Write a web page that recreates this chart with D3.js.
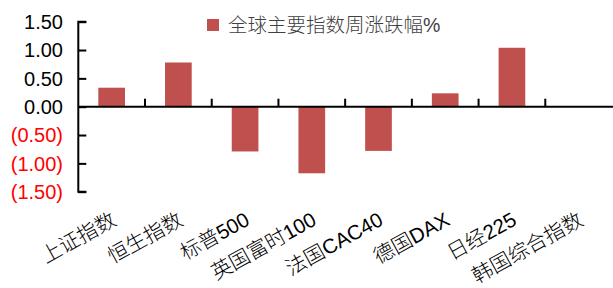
<!DOCTYPE html>
<html><head><meta charset="utf-8">
<script src="https://cdn.jsdelivr.net/npm/d3@7/dist/d3.min.js"></script>
<style>body{margin:0;background:#fff;}svg{display:block;}</style>
</head><body>
<svg id="c" width="613" height="288"></svg>
<script>
const categories = ["上证指数","恒生指数","标普500","英国富时100","法国CAC40","德国DAX","日经225","韩国综合指数"];
const values = [0.335, 0.78, -0.79, -1.175, -0.78, 0.236, 1.04, 0];
const yTicks = [1.5, 1.0, 0.5, 0, -0.5, -1.0, -1.5];
const legendLabel = "全球主要指数周涨跌幅%";

const svg = d3.select("#c");
const font = "'Liberation Sans', Arial, 'Noto Sans CJK SC', sans-serif";
const x = d3.scaleBand().domain(categories).range([78.3, 612]).paddingInner(0.6).paddingOuter(0.3);
const xOuter = d3.scaleBand().domain(categories).range([78.3, 612]);
const y = d3.scaleLinear().domain([-1.5, 1.5]).range([191.7, 21.7]);

// bars
svg.append("g").selectAll("rect").data(values).join("rect")
  .attr("x", (d,i) => x(categories[i]))
  .attr("width", x.bandwidth())
  .attr("y", d => y(Math.max(0,d)))
  .attr("height", d => Math.abs(y(d) - y(0)))
  .attr("fill", "#C0504D");

// y axis
const yAxis = d3.axisRight(y).tickValues(yTicks).tickSize(8).tickFormat("");
const ga = svg.append("g").attr("transform","translate(78.3,0)").call(yAxis);
ga.select(".domain").attr("stroke","#000").attr("stroke-width",2).attr("d", `M8,${y(1.5)}H0V${y(-1.5)}H8`);
ga.selectAll(".tick line").attr("stroke","#000").attr("stroke-width",2);

svg.append("g").selectAll("text").data(yTicks).join("text")
  .attr("x", 63).attr("y", d => y(d)).attr("dy","0.36em")
  .attr("text-anchor","end")
  .attr("font-family", font).attr("font-size", 20)
  .attr("fill", d => d < 0 ? "#FF0000" : "#000")
  .text(d => d < 0 ? "(" + d3.format(".2f")(-d) + ")" : d3.format(".2f")(d));

// x axis at zero
const xAxis = d3.axisTop(xOuter).tickSize(8).tickFormat("");
const gx = svg.append("g").attr("transform", `translate(0,${y(0)})`).call(xAxis);
gx.select(".domain").attr("stroke","#000").attr("stroke-width",2).attr("d","M78.3,0H613");
gx.selectAll(".tick").attr("transform", d => `translate(${xOuter(d)},0)`);
gx.selectAll(".tick").filter((d,i)=>i===0).remove();
gx.selectAll(".tick line").attr("stroke","#000").attr("stroke-width",2);

// x labels
svg.append("g").selectAll("text").data(categories).join("text")
  .attr("text-anchor","end")
  .attr("font-family", font).attr("font-size", 20.5).attr("font-weight", 300).attr("fill","#000")
  .attr("transform", d => `translate(${xOuter(d)+xOuter.bandwidth()/2+6},224) rotate(-29)`)
  .text(d => d);

// legend
svg.append("rect").attr("x",207).attr("y",19).attr("width",12).attr("height",12).attr("fill","#C0504D");
svg.append("text").attr("x",228).attr("y",25).attr("dy","0.36em")
  .attr("font-family", font).attr("font-size", 19.5).attr("font-weight", 300).attr("fill","#404040")
  .text(legendLabel);
</script>
</body></html>
